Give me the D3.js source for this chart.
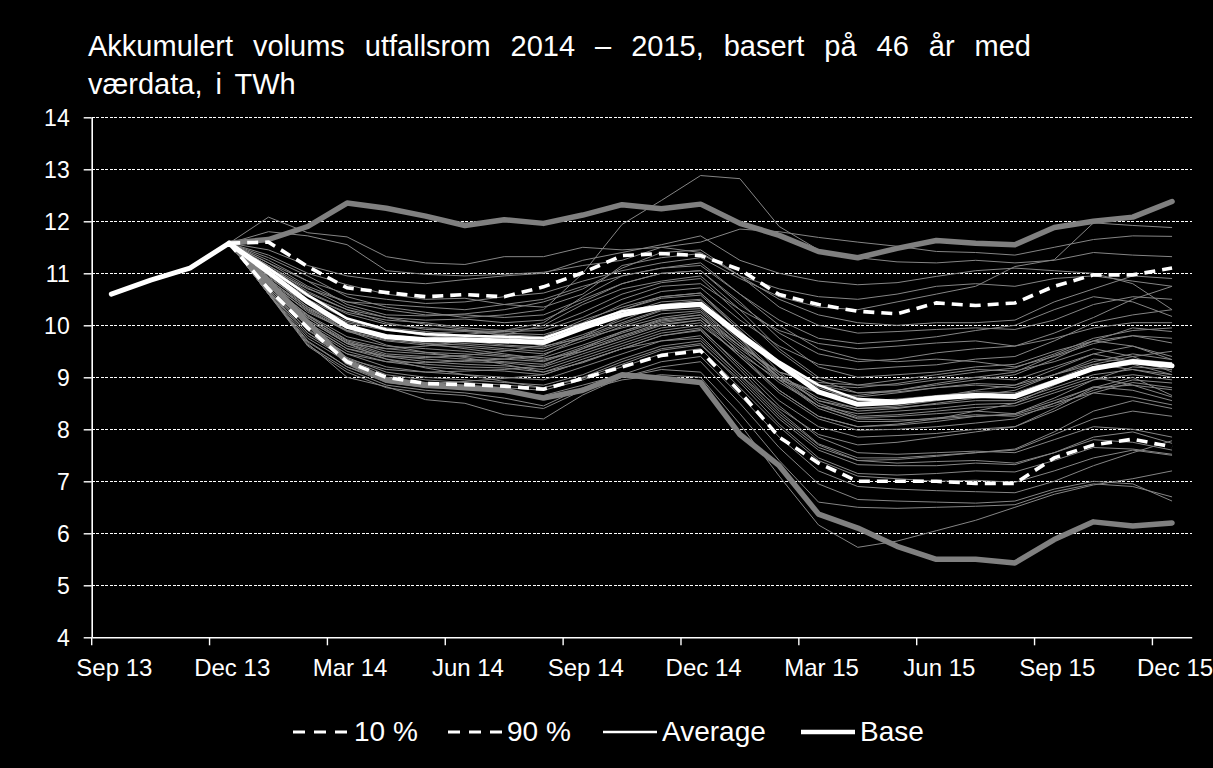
<!DOCTYPE html>
<html><head><meta charset="utf-8">
<script src="https://cdn.jsdelivr.net/npm/d3@7"></script>
<style>
html,body{margin:0;padding:0;background:#000;}
svg{display:block;}
text{font-family:"Liberation Sans",Arial,sans-serif;fill:#fff;}
</style>
</head><body>
<svg id="chart" width="1213" height="768"></svg>
<script>
const months = ["Sep 13","Oct 13","Nov 13","Dec 13","Jan 14","Feb 14","Mar 14","Apr 14","May 14","Jun 14","Jul 14","Aug 14","Sep 14","Oct 14","Nov 14","Dec 14","Jan 15","Feb 15","Mar 15","Apr 15","May 15","Jun 15","Jul 15","Aug 15","Sep 15","Oct 15","Nov 15","Dec 15"];
const tickLabels = ["Sep 13","Dec 13","Mar 14","Jun 14","Sep 14","Dec 14","Mar 15","Jun 15","Sep 15","Dec 15"];
const yTicks = [4,5,6,7,8,9,10,11,12,13,14];
const fanMonths = months.slice(3); // Dec 13 .. Dec 15

const baseVals = [10.60,10.87,11.10,11.58,11.02,10.45,9.98,9.78,9.72,9.72,9.70,9.67,9.95,10.20,10.35,10.40,9.80,9.25,8.72,8.48,8.52,8.60,8.65,8.63,8.90,9.17,9.30,9.22];
const averageVals = [11.58,11.10,10.58,10.13,9.92,9.83,9.80,9.78,9.75,10.02,10.27,10.38,10.43,9.85,9.30,8.85,8.58,8.55,8.62,8.67,8.65,8.93,9.18,9.32,9.26];
const p10Vals = [11.58,10.70,9.95,9.30,9.00,8.88,8.86,8.83,8.77,8.98,9.20,9.42,9.51,8.72,7.85,7.35,7.00,7.00,7.00,6.96,6.96,7.45,7.70,7.81,7.66];
const p90Vals = [11.58,11.60,11.13,10.72,10.63,10.55,10.59,10.55,10.74,11.01,11.34,11.38,11.34,11.07,10.59,10.40,10.27,10.22,10.43,10.38,10.43,10.75,10.97,10.97,11.10];
const maxVals = [11.58,11.65,11.90,12.35,12.25,12.10,11.92,12.03,11.96,12.12,12.32,12.24,12.33,11.96,11.73,11.42,11.30,11.48,11.63,11.58,11.55,11.88,12.00,12.08,12.38];
const minVals = [11.58,10.85,10.05,9.30,8.95,8.85,8.80,8.75,8.60,8.75,9.05,8.98,8.90,7.90,7.30,6.37,6.10,5.75,5.50,5.50,5.43,5.88,6.22,6.14,6.20];

const weatherYears = [
[11.58,12.08,11.78,11.70,11.32,11.20,11.17,11.32,11.32,11.50,11.45,11.50,11.40,10.95,10.70,10.55,10.50,10.60,10.75,10.80,10.75,10.90,10.95,10.85,10.75],
[11.58,11.30,10.95,10.55,10.35,10.25,10.15,10.20,10.30,11.00,11.94,12.40,12.88,12.82,11.90,11.45,11.30,11.22,11.20,11.25,11.20,11.25,11.40,11.35,11.32],
[11.58,11.80,11.72,11.55,11.05,10.98,10.95,10.98,11.02,11.15,11.25,11.50,11.60,11.85,11.80,11.69,11.60,11.52,11.42,11.40,11.35,11.50,11.65,11.72,11.71],
[11.58,11.45,11.15,10.95,10.85,10.80,10.88,10.95,11.00,11.25,11.40,11.55,11.72,11.25,11.00,10.85,10.78,10.82,10.94,11.05,11.10,11.05,11.00,10.80,10.30],
[11.58,11.20,10.85,10.60,10.50,10.42,10.45,10.55,10.62,10.85,11.05,11.20,11.30,10.90,10.55,10.35,10.30,10.45,10.60,10.75,11.13,11.26,11.97,11.92,11.88],
[11.58,11.35,11.00,10.78,10.60,10.50,10.52,10.40,10.35,10.60,11.15,11.30,11.38,10.95,10.50,10.20,10.05,10.00,10.05,10.05,10.10,10.45,10.70,10.95,10.90],
[11.58,11.10,10.70,10.45,10.40,10.35,10.30,10.40,10.50,10.75,10.95,11.10,11.20,10.60,10.00,9.55,9.35,9.30,9.35,9.30,9.20,9.40,9.65,9.80,9.66],
[11.58,11.25,10.85,10.40,10.20,10.18,10.22,10.30,10.45,10.70,11.10,11.40,11.45,10.95,10.35,10.00,9.85,9.88,9.92,9.95,9.92,10.10,10.40,10.55,10.50],
[11.58,11.15,10.65,10.30,10.15,10.10,10.12,10.05,10.10,10.45,10.80,11.00,11.05,10.45,9.75,9.20,9.00,9.05,9.10,9.20,9.25,9.50,9.70,9.80,9.75],
[11.58,10.85,10.25,9.90,9.80,9.75,9.82,9.90,10.05,10.55,10.95,11.10,11.15,10.60,10.10,9.75,9.65,9.70,9.78,9.90,10.00,10.30,10.55,10.45,10.17],
[11.58,11.00,10.55,10.25,10.10,10.05,9.95,9.90,9.95,10.25,10.60,10.82,10.90,10.20,9.50,8.95,8.70,8.72,8.80,8.85,8.80,9.05,9.30,9.45,9.34],
[11.58,11.12,10.62,10.30,10.05,9.92,9.90,9.88,9.90,10.15,10.50,10.75,10.80,10.30,9.90,9.65,9.55,9.60,9.66,9.70,9.60,9.75,9.95,10.05,10.05],
[11.58,10.75,10.10,9.65,9.55,9.60,9.70,9.82,10.00,10.40,10.70,10.85,10.95,10.30,9.55,9.00,8.85,8.85,8.95,9.00,8.95,9.20,9.45,9.30,9.14],
[11.58,10.92,10.40,10.05,9.90,9.85,9.88,9.82,9.78,10.10,10.35,10.55,10.62,9.95,9.30,8.80,8.55,8.58,8.65,8.72,8.70,8.95,9.20,9.35,9.28],
[11.58,11.05,10.50,10.12,9.95,9.88,9.80,9.75,9.72,9.98,10.30,10.52,10.58,9.90,9.10,8.50,8.25,8.28,8.35,8.42,8.45,8.70,8.95,9.05,8.95],
[11.58,10.98,10.42,10.08,9.92,9.80,9.75,9.70,9.68,9.92,10.22,10.45,10.50,9.85,9.25,8.85,8.70,8.75,8.85,8.95,9.05,9.35,9.70,9.95,9.88],
[11.58,11.15,10.72,10.35,10.15,10.02,9.92,9.80,9.60,9.75,9.95,10.15,10.25,9.60,8.95,8.45,8.22,8.25,8.30,8.35,8.30,8.55,8.80,8.85,8.76],
[11.58,10.88,10.35,9.98,9.82,9.75,9.70,9.62,9.58,9.82,10.10,10.38,10.42,9.75,9.05,8.55,8.35,8.40,8.50,8.60,8.68,8.95,9.25,9.40,9.50],
[11.58,10.85,10.32,9.95,9.78,9.70,9.65,9.60,9.55,9.78,10.05,10.30,10.38,9.70,9.00,8.45,8.20,8.18,8.20,8.25,8.28,8.50,8.70,8.62,8.47],
[11.58,10.72,10.02,9.55,9.40,9.38,9.42,9.50,9.62,9.95,10.30,10.55,10.62,9.90,9.20,8.70,8.50,8.52,8.62,8.75,8.85,9.15,9.45,9.60,9.40],
[11.58,10.82,10.28,9.88,9.70,9.62,9.58,9.52,9.45,9.70,9.98,10.22,10.28,9.65,9.05,8.60,8.40,8.42,8.48,8.55,8.55,8.80,9.05,9.15,9.05],
[11.58,11.00,10.45,10.00,9.78,9.65,9.55,9.45,9.35,9.50,9.78,10.02,10.10,9.50,8.90,8.45,8.30,8.35,8.40,8.48,8.50,8.75,9.00,8.85,8.62],
[11.58,10.78,10.20,9.78,9.60,9.55,9.50,9.42,9.38,9.62,9.88,10.12,10.20,9.60,9.10,8.85,8.80,8.88,9.00,9.10,9.18,9.45,9.75,9.90,9.95],
[11.58,10.75,10.18,9.72,9.55,9.48,9.45,9.40,9.32,9.58,9.85,10.08,10.15,9.55,9.00,8.70,8.62,8.70,8.80,8.88,8.85,9.05,9.25,9.15,9.00],
[11.58,10.68,9.92,9.45,9.30,9.28,9.32,9.35,9.42,9.78,10.15,10.40,10.48,9.75,8.95,8.40,8.15,8.15,8.22,8.28,8.25,8.45,8.75,8.95,8.89],
[11.58,10.75,10.10,9.65,9.42,9.35,9.30,9.28,9.20,9.45,9.70,9.95,10.05,9.40,8.70,8.20,7.98,8.00,8.05,8.12,8.20,8.50,8.82,8.75,8.55],
[11.58,10.95,10.35,9.90,9.62,9.48,9.38,9.25,9.10,9.28,9.55,9.80,9.92,9.25,8.55,8.05,7.85,7.88,7.92,8.00,8.05,8.35,8.70,8.90,8.80],
[11.58,10.72,10.00,9.55,9.35,9.25,9.20,9.18,9.10,9.35,9.60,9.85,9.95,9.20,8.45,7.85,7.55,7.52,7.55,7.58,7.55,7.80,8.05,8.00,7.85],
[11.58,10.68,9.98,9.50,9.30,9.20,9.15,9.12,9.05,9.30,9.55,9.80,9.90,9.15,8.35,7.72,7.45,7.45,7.50,7.55,7.60,7.90,8.20,8.35,8.25],
[11.58,10.65,9.85,9.35,9.15,9.10,9.12,9.15,9.22,9.55,9.88,10.10,10.20,9.45,8.75,8.25,8.05,8.08,8.15,8.25,8.30,8.60,8.95,9.20,9.15],
[11.58,10.70,9.90,9.45,9.20,9.10,9.05,9.00,8.95,9.20,9.45,9.70,9.80,9.05,8.30,7.70,7.40,7.35,7.38,7.40,7.35,7.55,7.80,7.75,7.60],
[11.58,10.80,10.15,9.65,9.35,9.18,9.05,8.92,8.80,8.98,9.25,9.52,9.62,8.95,8.20,7.60,7.32,7.30,7.30,7.35,7.32,7.55,7.85,7.95,7.73],
[11.58,10.66,9.85,9.38,9.10,9.00,8.95,8.90,8.85,9.05,9.35,9.60,9.70,9.00,8.25,7.65,7.40,7.42,7.48,7.55,7.62,7.95,8.35,8.55,8.40],
[11.58,10.64,9.80,9.35,9.05,8.95,8.90,8.85,8.80,9.00,9.30,9.55,9.65,8.90,8.10,7.45,7.15,7.12,7.15,7.20,7.18,7.40,7.65,7.62,7.52],
[11.58,10.62,9.75,9.30,9.00,8.90,8.85,8.80,8.75,8.95,9.20,9.45,9.55,8.80,8.05,7.40,7.10,7.05,7.00,7.02,6.98,7.20,7.45,7.60,7.50],
[11.58,10.60,9.68,9.20,8.95,8.88,8.92,8.98,9.05,9.30,9.55,9.70,9.75,9.05,8.40,7.90,7.70,7.75,7.85,7.95,8.05,8.40,8.80,9.00,8.65],
[11.58,10.62,9.70,9.20,8.90,8.80,8.78,8.72,8.65,8.85,9.05,9.30,9.40,8.65,7.85,7.20,6.90,6.85,6.82,6.80,6.78,7.00,7.30,7.55,7.78],
[11.58,10.60,9.65,9.00,8.82,8.57,8.50,8.28,8.20,8.66,9.00,9.20,9.30,8.50,7.65,6.95,6.65,6.62,6.60,6.58,6.62,6.85,7.00,6.95,6.62],
[11.58,10.62,9.62,9.15,8.85,8.75,8.70,8.60,8.45,8.80,9.00,9.15,9.10,8.30,7.40,6.60,6.50,6.48,6.50,6.52,6.55,6.80,6.95,6.90,6.70],
[11.58,10.60,9.60,9.10,8.80,8.70,8.65,8.50,8.40,8.75,8.95,9.05,9.00,8.10,7.10,6.16,5.73,5.85,6.05,6.25,6.50,6.75,6.93,7.05,7.20],
[11.58,10.72,10.05,9.60,9.40,9.30,9.25,9.22,9.15,9.40,9.65,9.90,10.00,9.45,8.95,8.70,8.65,8.75,8.88,9.00,9.10,9.42,9.70,9.60,9.34],
[11.58,10.90,10.30,9.90,9.72,9.65,9.62,9.55,9.50,9.75,10.02,10.28,10.32,9.65,9.00,8.55,8.40,8.45,8.55,8.65,8.75,9.05,9.35,9.30,9.20],
[11.58,11.05,10.58,10.22,10.02,9.95,9.90,9.85,9.82,10.05,10.40,10.65,10.72,10.10,9.60,9.25,9.15,9.20,9.24,9.35,9.40,9.70,10.05,10.20,10.30],
[11.58,10.80,10.20,9.70,9.50,9.45,9.40,9.35,9.30,9.55,9.80,10.05,10.15,9.60,9.10,8.90,8.85,8.95,9.05,9.15,9.12,9.30,9.55,9.40,9.10],
[11.58,11.20,10.75,10.45,10.30,10.20,10.20,10.15,10.20,10.50,10.80,11.00,11.05,10.40,9.85,9.45,9.30,9.35,9.47,9.55,9.60,9.85,10.15,10.50,10.75],
[11.58,10.75,10.15,9.68,9.45,9.40,9.35,9.30,9.25,9.50,9.75,10.00,10.10,9.40,8.75,8.25,8.05,8.10,8.20,8.35,8.50,8.85,9.15,9.25,9.05]
];

const titleLine1 = ["Akkumulert","volums","utfallsrom","2014","–","2015,","basert","på","46","år","med"];
const titleLine2 = "værdata, i TWh";
const legendItems = ["10 %","90 %","Average","Base"];

// ---------- layout ----------
const svg = d3.select("#chart");
svg.append("rect").attr("width",1213).attr("height",768).attr("fill","#000");

const plotLeft = 91.7, plotRight = 1191.7, plotTop = 117.3, plotBottom = 637.3;
const x = d3.scaleBand().domain(months).range([plotLeft, plotRight]).paddingInner(0).paddingOuter(0);
const cx = m => x(m) + x.bandwidth()/2;
const y = d3.scaleLinear().domain([4,14]).range([plotBottom, plotTop]);

// gridlines
svg.append("g").selectAll("line").data(yTicks.filter(d => d > 4)).join("line")
  .attr("x1", plotLeft).attr("x2", plotRight)
  .attr("y1", d => Math.round(y(d)) + 0.5).attr("y2", d => Math.round(y(d)) + 0.5)
  .attr("stroke","#fff").attr("stroke-width",1).attr("stroke-dasharray","3,1.5")
  .attr("shape-rendering","crispEdges");

// y axis
const yAxis = svg.append("g").attr("transform",`translate(${plotLeft},0)`)
  .call(d3.axisLeft(y).tickValues(yTicks).tickSize(8).tickSizeOuter(0).tickPadding(14).tickFormat(d3.format("d")));
yAxis.select(".domain").attr("stroke","#fff").attr("stroke-width",1.6);
yAxis.selectAll(".tick line").attr("stroke","#fff").attr("stroke-width",1.4);
yAxis.selectAll("text").attr("fill","#fff").style("font-size","23px")
  .style("font-family",'"Liberation Sans",Arial,sans-serif').attr("dy","0.37em");

// x axis
const xAxis = svg.append("g").attr("transform",`translate(0,${plotBottom})`)
  .call(d3.axisBottom(x).tickValues(tickLabels).tickSize(0).tickSizeOuter(0).tickPadding(22));
xAxis.select(".domain").attr("stroke","#fff").attr("stroke-width",1.6);
xAxis.selectAll("text").attr("fill","#fff").style("font-size","24px")
  .style("font-family",'"Liberation Sans",Arial,sans-serif').attr("dx",3);
svg.append("g").selectAll("line").data(tickLabels).join("line")
  .attr("x1", d => x(d)).attr("x2", d => x(d))
  .attr("y1", plotBottom).attr("y2", plotBottom + 8)
  .attr("stroke","#fff").attr("stroke-width",1.4);

// line generator
const line = d3.line().x(d => cx(d.m)).y(d => y(d.v));
const fanData = vals => vals.map((v,i) => ({m: fanMonths[i], v}));

const plot = svg.append("g");
plot.selectAll("path.year").data(weatherYears).join("path")
  .attr("class","year").attr("d", d => line(fanData(d)))
  .attr("fill","none").attr("stroke","#858585").attr("stroke-width",1)
  .attr("stroke-linejoin","round");

[maxVals, minVals].forEach(vals => {
  plot.append("path").attr("d", line(fanData(vals)))
    .attr("fill","none").attr("stroke","#808080").attr("stroke-width",5.5)
    .attr("stroke-linejoin","round").attr("stroke-linecap","round");
});

[p10Vals, p90Vals].forEach(vals => {
  plot.append("path").attr("d", line(fanData(vals)))
    .attr("fill","none").attr("stroke","#fff").attr("stroke-width",3.6)
    .attr("stroke-dasharray","11,7");
});

plot.append("path").attr("d", line(fanData(averageVals)))
  .attr("fill","none").attr("stroke","#fff").attr("stroke-width",2.6).attr("stroke-linejoin","round");

plot.append("path").attr("d", line(baseVals.map((v,i) => ({m: months[i], v}))))
  .attr("fill","none").attr("stroke","#fff").attr("stroke-width",5)
  .attr("stroke-linejoin","round").attr("stroke-linecap","round");

// title (justified first line)
const titleG = svg.append("g").style("font-size","29px");
const words = titleG.selectAll("text.w").data(titleLine1).join("text")
  .attr("class","w").attr("y",56).text(d => d);
const widths = [];
words.each(function(){ widths.push(this.getComputedTextLength()); });
const tx0 = 88, tx1 = 1031;
const gap = (tx1 - tx0 - d3.sum(widths)) / (titleLine1.length - 1);
let cur = tx0;
words.each(function(d,i){ d3.select(this).attr("x", cur); cur += widths[i] + gap; });
titleG.append("text").attr("x",88).attr("y",94).attr("word-spacing","5px").text(titleLine2);

// legend
const lg = svg.append("g");
const legendLayout = [
  {x0:293, x1:347, tx:354, dash:"12,9", w:3},
  {x0:448, x1:502, tx:507, dash:"12,9", w:3},
  {x0:603, x1:657, tx:662, dash:null, w:2.6},
  {x0:801, x1:855, tx:860, dash:null, w:4.6}
];
legendItems.forEach((label,i) => {
  const L = legendLayout[i];
  const ln = lg.append("line").attr("x1",L.x0).attr("x2",L.x1).attr("y1",732).attr("y2",732)
    .attr("stroke","#fff").attr("stroke-width",L.w);
  if (L.dash) ln.attr("stroke-dasharray",L.dash);
  lg.append("text").attr("x",L.tx).attr("y",741).style("font-size","28px").text(label);
});
</script>
</body></html>
